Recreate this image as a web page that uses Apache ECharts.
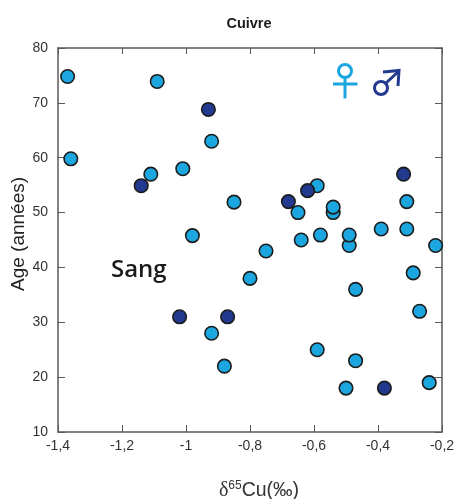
<!DOCTYPE html>
<html>
<head>
<meta charset="utf-8">
<style>html,body{margin:0;padding:0;background:#fff}#c{width:458px;height:499px}</style>
<script src="https://cdn.jsdelivr.net/npm/echarts@6/dist/echarts.min.js"></script>
</head>
<body>
<div id="c"></div>
<script>
var titleText = 'Cuivre';
var yAxisName = 'Age (années)';
var panelLabel = 'Sang';
var femaleDelta = [-1.37,-1.09,-1.36,-1.11,-1.01,-0.92,-0.98,-0.85,-0.59,-0.65,-0.54,-0.54,-0.64,-0.58,-0.49,-0.49,-0.39,-0.31,-0.31,-0.22,-0.75,-0.8,-0.29,-0.47,-0.27,-0.92,-0.88,-0.59,-0.47,-0.5,-0.24];
var femaleAge   = [74.8,73.9,59.8,57,58,63,45.8,51.9,54.9,50,50,51,45,45.9,44,45.9,47,47,52,44,43,38,39,36,32,28,22,25,23,18,19];
var maleDelta = [-0.93,-1.14,-0.68,-0.62,-0.32,-1.02,-0.87,-0.38];
var maleAge   = [68.8,54.9,52,54,57,31,31,18];
var femaleColor = '#1ba6df';
var maleColor = '#21398f';

function zip(a, b) { return a.map(function (v, i) { return [v, b[i]]; }); }
var axisColor = '#5a5a5a';
var lineStyle = { color: axisColor, width: 1.5 };

var chart = echarts.init(document.getElementById('c'), null, { renderer: 'canvas' });
var xBase = { type: 'value', min: -1.4, max: -0.2, interval: 0.2, splitLine: { show: false } };
var yBase = { type: 'value', min: 10, max: 80, interval: 10, splitLine: { show: false } };
var series = function (name, data, color) {
  return { name: name, type: 'scatter', data: data, symbol: 'circle', symbolSize: 13.5,
    itemStyle: { color: color, opacity: 1, borderColor: '#1c1c1c', borderWidth: 1.6 } };
};
var sym = function (stroke, shape) {
  return { type: shape.points ? 'polyline' : (shape.r ? 'circle' : 'line'), shape: shape,
    style: { stroke: stroke, lineWidth: 3, fill: shape.r ? 'transparent' : null } };
};
chart.setOption({
  animation: false,
  title: { text: titleText, left: 249, top: 16, textAlign: 'center',
    textStyle: { fontFamily: 'Liberation Sans', fontSize: 14.5, fontWeight: 'bold', color: '#1a1a1a', lineHeight: 16 }, padding: 0 },
  grid: { left: 58, right: 16, top: 48, bottom: 67, outerBoundsMode: 'none' },
  xAxis: [
    Object.assign({}, xBase, {
      position: 'bottom',
      axisLine: { show: true, lineStyle: lineStyle, onZero: false },
      axisTick: { show: true, inside: true, length: 7, lineStyle: { color: axisColor, width: 1 } },
      axisLabel: { margin: 7, color: '#333', fontFamily: 'Liberation Sans', fontSize: 14, hideOverlap: false,
        showMinLabel: true, showMaxLabel: true,
        formatter: function (v) { return String(+v.toFixed(1)).replace('.', ','); } },
      name: '{d|\u03b4}{s|65}{n|Cu(\u2030)}',
      nameLocation: 'middle',
      nameGap: 48,
      nameMoveOverlap: false,
      nameTextStyle: { padding: [0, 0, 0, 18], rich: {
        d: { fontFamily: 'Liberation Serif', fontSize: 20, color: '#333' },
        s: { fontFamily: 'Liberation Sans', fontSize: 12, color: '#333', padding: [0, 0, 10, 0] },
        n: { fontFamily: 'Liberation Sans', fontSize: 19.5, color: '#333' } } }
    }),
    Object.assign({}, xBase, {
      position: 'top',
      axisLine: { show: true, lineStyle: lineStyle, onZero: false },
      axisTick: { show: true, inside: true, length: 6, lineStyle: { color: axisColor, width: 1 } },
      axisLabel: { show: false }
    })
  ],
  yAxis: [
    Object.assign({}, yBase, {
      position: 'left',
      axisLine: { show: true, lineStyle: lineStyle, onZero: false },
      axisTick: { show: true, inside: true, length: 7, lineStyle: { color: axisColor, width: 1 } },
      axisLabel: { margin: 10, color: '#333', fontFamily: 'Liberation Sans', fontSize: 14,
        showMinLabel: true, showMaxLabel: true, padding: [0, 0, 3, 0] },
      name: yAxisName,
      nameLocation: 'middle',
      nameGap: 30,
      nameMoveOverlap: false,
      nameTextStyle: { fontFamily: 'Liberation Sans', fontSize: 19, color: '#222', padding: [0, 0, 0, 12] }
    }),
    Object.assign({}, yBase, {
      position: 'right',
      axisLine: { show: true, lineStyle: lineStyle, onZero: false },
      axisTick: { show: true, inside: true, length: 7, lineStyle: { color: axisColor, width: 1 } },
      axisLabel: { show: false }
    })
  ],
  graphic: [
    { type: 'text', x: 111, y: 270, style: { text: panelLabel, fontFamily: 'Open Sans', fontWeight: 600, fontSize: 24, fill: '#1a1a1a', textVerticalAlign: 'middle' } },
    sym(femaleColor, { cx: 345, cy: 71, r: 6.5 }),
    sym(femaleColor, { x1: 345, y1: 77, x2: 345, y2: 98.5 }),
    sym(femaleColor, { x1: 333, y1: 84, x2: 357.5, y2: 84 }),
    sym(maleColor, { cx: 381, cy: 88, r: 6.5 }),
    sym(maleColor, { x1: 386, y1: 83, x2: 399, y2: 71 }),
    sym(maleColor, { points: [[383, 72], [399, 70.5], [398, 86]] })
  ],
  series: [
    series('Femmes', zip(femaleDelta, femaleAge), femaleColor),
    series('Hommes', zip(maleDelta, maleAge), maleColor)
  ]
});
</script>
</body>
</html>
